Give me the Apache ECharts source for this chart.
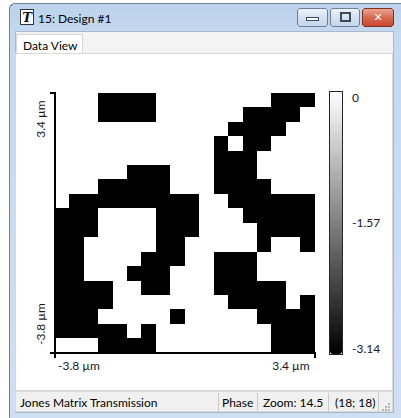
<!DOCTYPE html>
<html>
<head>
<meta charset="utf-8">
<title>15: Design #1</title>
<script src="https://cdn.jsdelivr.net/npm/echarts@6/dist/echarts.min.js"></script>
<style>
  html, body { margin: 0; padding: 0; background: #ffffff; }
  #chart { width: 401px; height: 418px; }
  /* keep the phase cells sharp so neighbouring cells do not show seams */
  #chart svg path { shape-rendering: crispEdges; }
</style>
</head>
<body>
<div id="chart"></div>
<script>
// ---- data ---------------------------------------------------------------
// Phase levels of the design (radians)
const PHASE_LOW = -3.14;
const PHASE_HIGH = 0;

// 18 x 18 phase map, first string = top row; '#' -> PHASE_LOW, '.' -> PHASE_HIGH
const phaseRows = [
  '...####........###',
  '...####......####.',
  '............####..',
  '...........#.##...',
  '...........###....',
  '.....###...###....',
  '...#####...####...',
  '.#########..######',
  '###....###...#####',
  '###....###....####',
  '##.....##.....#..#',
  '##....###..###....',
  '##...###...###....',
  '####..##...#####..',
  '####........####.#',
  '###.....#.....####',
  '#####.#........###',
  '...####........###'
];

// Axis end labels (physical extent of the design)
const xTickLabels = ['-3.8 µm', '3.4 µm'];
const yTickLabels = ['-3.8 µm', '3.4 µm'];

// Colour bar ticks
const colorbarTicks = [-3.14, -1.57, 0];
const colorbarTickLabels = ['-3.14', '-1.57', '0'];

// Status bar entries
const statusLabels = ['Jones Matrix Transmission', 'Phase', 'Zoom: 14.5', '(18; 18)'];

// ---- build heatmap data ---------------------------------------------------
const nRows = phaseRows.length;
const nCols = phaseRows[0].length;
const colCats = Array.from({ length: nCols }, (_, i) => String(i));
const rowCats = Array.from({ length: nRows }, (_, i) => String(i));
const cells = [];
phaseRows.forEach((row, r) => {
  for (let c = 0; c < row.length; c++) {
    cells.push([c, r, row[c] === '#' ? PHASE_LOW : PHASE_HIGH]);
  }
});

const UI_FONT = 'Lato, "Noto Sans", sans-serif';

// ---- window chrome ------------------------------------------------------
const chrome = [
  { // window frame
    type: 'rect', z: -10, silent: true,
    shape: { x: 9.5, y: 3.5, width: 400, height: 440, r: 6 },
    style: {
      fill: new echarts.graphic.LinearGradient(0, 0, 0, 1, [
        { offset: 0, color: '#bcd2ec' },
        { offset: 0.08, color: '#c6d9ef' },
        { offset: 1, color: '#cfe0f3' }
      ]),
      stroke: '#6f829c', lineWidth: 1
    }
  },
  { // client area
    type: 'rect', z: -9, silent: true,
    shape: { x: 15, y: 31, width: 378, height: 381 },
    style: { fill: '#f3f3f3', stroke: '#a9b8ca', lineWidth: 1 }
  },
  { // tab
    type: 'rect', z: -8, silent: true,
    shape: { x: 16.5, y: 34.5, width: 66, height: 20 },
    style: { fill: '#ffffff', stroke: '#d6d6d6', lineWidth: 1 }
  },
  { type: 'text', z: -7, silent: true,
    style: { x: 23, y: 45, text: 'Data View', font: '12px ' + UI_FONT, fill: '#000', verticalAlign: 'middle' } },
  { // content panel
    type: 'rect', z: -8, silent: true,
    shape: { x: 15.5, y: 53.5, width: 377, height: 337 },
    style: { fill: '#ffffff', stroke: '#d8d8d8', lineWidth: 1 }
  },
  { // status bar
    type: 'rect', z: -8, silent: true,
    shape: { x: 15.5, y: 391.5, width: 377, height: 20 },
    style: { fill: '#f0f0f0', stroke: '#dadada', lineWidth: 1 }
  },
  // status bar separators
  ...[218, 257, 328, 378].map(x => ({
    type: 'line', z: -7, silent: true,
    shape: { x1: x + 0.5, y1: 393, x2: x + 0.5, y2: 411 },
    style: { stroke: '#c9c9c9', lineWidth: 1 }
  })),
  // status texts
  ...statusLabels.map((t, i) => ({
    type: 'text', z: -6, silent: true,
    style: { x: [20, 222, 263, 335][i], y: 402, text: t, font: '12px ' + UI_FONT, fill: '#000', verticalAlign: 'middle' }
  })),
  // resize grip
  ...[[388, 403], [385, 406], [388, 406], [382, 409], [385, 409], [388, 409]].map(p => ({
    type: 'rect', z: -6, silent: true,
    shape: { x: p[0], y: p[1], width: 1.5, height: 1.5 },
    style: { fill: '#b5b5b5' }
  })),
  // title icon
  { type: 'rect', z: -6, silent: true,
    shape: { x: 20.5, y: 9.5, width: 13, height: 15, r: 1 },
    style: { fill: '#ffffff', stroke: '#333', lineWidth: 1 } },
  { type: 'text', z: -5, silent: true,
    style: { x: 27, y: 17.5, text: 'T', font: 'italic bold 13px "DejaVu Serif", serif', fill: '#111', align: 'center', verticalAlign: 'middle' } },
  // title
  { type: 'text', z: -6, silent: true,
    style: { x: 38, y: 18, text: '15: Design #1', font: '12px ' + UI_FONT, fill: '#000', verticalAlign: 'middle' } },
  // minimize / maximize / close buttons
  { type: 'rect', z: -6, silent: true,
    shape: { x: 297.5, y: 8.5, width: 30, height: 18, r: 3 },
    style: {
      fill: new echarts.graphic.LinearGradient(0, 0, 0, 1, [
        { offset: 0, color: '#eef3fa' }, { offset: 0.5, color: '#d6e2f1' }, { offset: 1, color: '#c2d4ea' }
      ]), stroke: '#6b7f9c', lineWidth: 1 } },
  { type: 'rect', z: -5, silent: true,
    shape: { x: 306.5, y: 17.5, width: 12, height: 3 },
    style: { fill: '#ffffff', stroke: '#3c4a5e', lineWidth: 1 } },
  { type: 'rect', z: -6, silent: true,
    shape: { x: 330.5, y: 8.5, width: 29, height: 18, r: 3 },
    style: {
      fill: new echarts.graphic.LinearGradient(0, 0, 0, 1, [
        { offset: 0, color: '#eef3fa' }, { offset: 0.5, color: '#d6e2f1' }, { offset: 1, color: '#c2d4ea' }
      ]), stroke: '#6b7f9c', lineWidth: 1 } },
  { type: 'rect', z: -5, silent: true,
    shape: { x: 340.5, y: 12.5, width: 9, height: 8 },
    style: { fill: 'none', stroke: '#3c4a5e', lineWidth: 2 } },
  { type: 'rect', z: -6, silent: true,
    shape: { x: 362.5, y: 8.5, width: 31, height: 18, r: 3 },
    style: {
      fill: new echarts.graphic.LinearGradient(0, 0, 0, 1, [
        { offset: 0, color: '#eaa893' }, { offset: 0.5, color: '#d86a50' }, { offset: 1, color: '#c8452c' }
      ]), stroke: '#7f2e20', lineWidth: 1 } },
  { type: 'text', z: -5, silent: true,
    style: { x: 378, y: 17.5, text: '✕', font: 'bold 11px "DejaVu Sans", sans-serif', fill: '#ffffff', align: 'center', verticalAlign: 'middle' } }
];

// ---- chart --------------------------------------------------------------
const axisTextStyle = { fontFamily: UI_FONT, fontSize: 12, color: '#1a1a1a' };

const option = {
  animation: false,
  backgroundColor: '#ffffff',
  graphic: { elements: chrome },
  grid: [
    { left: 55, top: 93, width: 260, height: 260 },                       // phase map
    { left: 329.5, top: 91.5, width: 13, height: 263, show: true,
      borderColor: '#262626', borderWidth: 1, backgroundColor: 'transparent' }, // colour bar frame
    { left: 340, top: 97, width: 2, height: 251 }                          // colour bar labels
  ],
  xAxis: [
    { type: 'category', gridIndex: 0, data: colCats, show: false },
    {
      type: 'value', gridIndex: 0, min: 0, max: 18, interval: 18, position: 'bottom', z: 5,
      axisLine: { show: true, onZero: false, lineStyle: { color: '#000', width: 2 } },
      axisTick: { show: true, length: 5, lineStyle: { color: '#000', width: 2 } },
      splitLine: { show: false },
      axisLabel: {
        margin: 6,
        formatter: v => (v === 0 ? '{lo|' + xTickLabels[0] + '}' : '{hi|' + xTickLabels[1] + '}'),
        rich: {
          lo: Object.assign({ padding: [0, 0, 0, 48] }, axisTextStyle),
          hi: Object.assign({ padding: [0, 48, 0, 0] }, axisTextStyle)
        }
      }
    },
    { type: 'value', gridIndex: 1, show: false },
    { type: 'value', gridIndex: 2, show: false }
  ],
  yAxis: [
    { type: 'category', gridIndex: 0, data: rowCats, inverse: true, show: false },
    {
      type: 'value', gridIndex: 0, min: 0, max: 18, interval: 18, position: 'left', z: 5,
      axisLine: { show: true, onZero: false, lineStyle: { color: '#000', width: 2 } },
      axisTick: { show: true, length: 5, lineStyle: { color: '#000', width: 2 } },
      splitLine: { show: false },
      axisLabel: {
        rotate: 90, margin: 9,
        formatter: v => (v === 0 ? '{lo|' + yTickLabels[0] + '}' : '{hi|' + yTickLabels[1] + '}'),
        rich: {
          lo: Object.assign({ padding: [0, 0, 0, 58] }, axisTextStyle),
          hi: Object.assign({ padding: [0, 52, 0, 0] }, axisTextStyle)
        }
      }
    },
    { type: 'value', gridIndex: 1, show: false },
    {
      type: 'value', gridIndex: 2, min: -3.14, max: 0, interval: 1.57, position: 'right',
      axisLine: { show: false }, axisTick: { show: false }, splitLine: { show: false },
      axisLabel: Object.assign({
        margin: 10,
        formatter: v => {
          const i = colorbarTicks.findIndex(t => Math.abs(t - v) < 1e-6);
          return i < 0 ? '' : colorbarTickLabels[i];
        }
      }, axisTextStyle)
    }
  ],
  visualMap: {
    type: 'continuous', seriesIndex: 0,
    min: PHASE_LOW, max: PHASE_HIGH,
    calculable: false, orient: 'vertical',
    left: 330, top: 92, itemWidth: 12, itemHeight: 262, padding: 0,
    inRange: { color: ['#000000', '#ffffff'] },
    hoverLink: false
  },
  series: [{
    type: 'heatmap', xAxisIndex: 0, yAxisIndex: 0,
    data: cells,
    progressive: 0,
    itemStyle: { borderWidth: 0 },
    emphasis: { disabled: true }
  }]
};

const chart = echarts.init(document.getElementById('chart'), null, { renderer: 'svg', width: 401, height: 418 });
chart.setOption(option);
</script>
</body>
</html>
